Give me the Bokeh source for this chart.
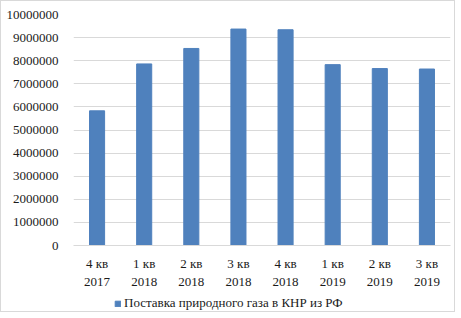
from bokeh.plotting import figure
from bokeh.layouts import column
from bokeh.models import FactorRange, Legend, LegendItem, Range1d, NumeralTickFormatter, FixedTicker
from bokeh.embed import file_html
from bokeh.resources import INLINE

categories = ["4 кв\n2017", "1 кв\n2018", "2 кв\n2018", "3 кв\n2018",
              "4 кв\n2018", "1 кв\n2019", "2 кв\n2019", "3 кв\n2019"]
values = [5830000, 7860000, 8530000, 9370000, 9340000, 7830000, 7660000, 7640000]
y_ticks = [0, 1000000, 2000000, 3000000, 4000000, 5000000, 6000000, 7000000, 8000000, 9000000, 10000000]
series_name = "Поставка природного газа в КНР из РФ"

FONT = "Liberation Serif"
TEXT = "#1a1a1a"
BAR = "#4f81bd"
EDGE = "#d9d9d9"

p = figure(width=453, height=290, x_range=FactorRange(*categories),
           y_range=Range1d(0, 10000000), output_backend="svg",
           toolbar_location=None, min_border_left=72, min_border_right=4,
           min_border_top=13, min_border_bottom=46)

p.vbar(x=categories, top=values, width=0.32, color=BAR, line_color=BAR)

p.outline_line_color = None
p.xgrid.grid_line_color = None
p.ygrid.grid_line_color = EDGE
p.ygrid.grid_line_width = 1
p.yaxis.ticker = FixedTicker(ticks=y_ticks)
p.yaxis.formatter = NumeralTickFormatter(format="0")
p.yaxis.axis_line_color = None
p.yaxis.major_tick_line_color = None
p.yaxis.minor_tick_line_color = None
p.yaxis.major_label_standoff = 9
p.xaxis.axis_line_color = EDGE
p.xaxis.major_tick_line_color = None
p.xaxis.minor_tick_line_color = None
p.xaxis.major_label_standoff = 4
for ax in (p.xaxis, p.yaxis):
    ax.major_label_text_font = FONT
    ax.major_label_text_font_size = "13px"
    ax.major_label_text_color = TEXT

# legend strip (its frame is aligned with the main frame by the column layout)
lg = figure(width=453, height=20, x_range=Range1d(0, 1), y_range=Range1d(0, 1),
            x_axis_type=None, y_axis_type=None,
            output_backend="svg", toolbar_location=None,
            min_border_left=0, min_border_right=0, min_border_top=0, min_border_bottom=0)
lg.grid.visible = False
lg.outline_line_color = None
dummy = lg.vbar(x=[0.5], bottom=[-2], top=[-1], width=0.3, color=BAR, line_color=BAR)
legend = Legend(items=[LegendItem(label=series_name, renderers=[dummy])],
                orientation="horizontal", location=(41, 0),
                border_line_color=None, background_fill_alpha=0,
                glyph_width=7, glyph_height=7, label_text_font=FONT,
                label_text_font_size="13px", label_text_color=TEXT,
                padding=2, margin=0, label_standoff=3, label_height=14)
lg.add_layout(legend, "center")

layout = column(p, lg, spacing=0,
                styles={"border": f"1px solid {EDGE}"})

open("out.html", "w").write(file_html(layout, INLINE))
